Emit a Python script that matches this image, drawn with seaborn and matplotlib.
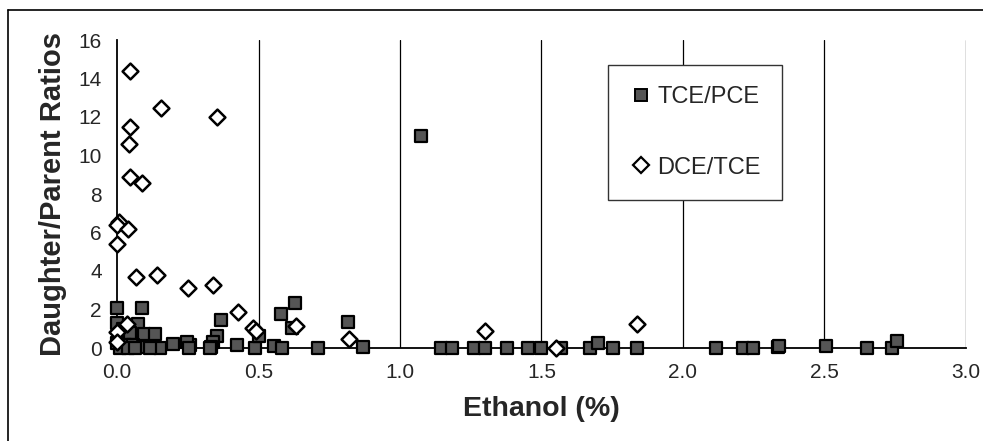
import matplotlib
matplotlib.use("Agg")
import matplotlib.pyplot as plt
from matplotlib.lines import Line2D
import seaborn as sns
import pandas as pd

# TCE/PCE ratios (ethanol %, ratio)
tce_pce_x = [0.0, 0.087, 1.074, 0.629, 0.578, 0.617, 0.816, 0.366, 0.352, 0.338,
             0.331, 0.258, 0.246, 0.423, 0.488, 0.50, 0.555, 0.583, 0.711, 0.868,
             1.145, 1.185, 1.261, 1.30, 1.379, 1.451, 1.498, 1.569, 1.671, 1.698,
             1.754, 1.836, 2.117, 2.213, 2.246, 2.334, 2.34, 2.507, 2.649, 2.737,
             2.757, 0.0, 0.075, 0.02, 0.046, 0.097, 0.134, 0.0, 0.028, 0.058,
             0.093, 0.152, 0.199, 0.255, 0.01, 0.04, 0.117, 0.065, 0.33]
tce_pce_y = [2.06, 2.06, 11.0, 2.32, 1.75, 1.02, 1.37, 1.45, 0.62, 0.33,
             0.07, 0.16, 0.30, 0.16, 0.02, 0.60, 0.10, 0.0, 0.0, 0.07,
             0.0, 0.0, 0.0, 0.0, 0.0, 0.0, 0.0, 0.0, 0.0, 0.24,
             0.0, 0.0, 0.0, 0.0, 0.0, 0.04, 0.10, 0.10, 0.0, 0.0,
             0.38, 1.28, 1.23, 1.0, 0.78, 0.73, 0.73, 0.26, 0.16, 0.16,
             0.07, 0.0, 0.19, 0.0, 0.0, 0.0, 0.0, 0.0, 0.0]

# DCE/TCE ratios
dce_tce_x = [0.046, 0.155, 0.353, 0.046, 0.042, 0.046, 0.087, 0.008, 0.0, 0.038,
             0.0, 0.067, 0.14, 0.25, 0.34, 0.426, 0.48, 0.49, 0.632, 0.82,
             1.30, 1.55, 1.839, 0.034, 0.0, 0.0]
dce_tce_y = [14.4, 12.47, 12.0, 11.5, 10.6, 8.9, 8.55, 6.56, 6.4, 6.2,
             5.4, 3.67, 3.8, 3.12, 3.27, 1.85, 1.05, 0.9, 1.16, 0.48,
             0.88, 0.02, 1.23, 1.23, 0.85, 0.33]

x_ticks = [0.0, 0.5, 1.0, 1.5, 2.0, 2.5, 3.0]
y_ticks = [0, 2, 4, 6, 8, 10, 12, 14, 16]

sns.set_style("white")
plt.rcParams['font.family'] = ['Liberation Sans', 'DejaVu Sans']

fig = plt.figure(figsize=(9.83, 4.41), dpi=100)
ax = fig.add_axes([117/983, 1-348/441, (966-117)/983, (348-40)/441])

for xv in x_ticks[1:]:
    ax.axvline(xv, color='black', lw=0.9, zorder=0)

df1 = pd.DataFrame({'x': tce_pce_x, 'y': tce_pce_y})
df2 = pd.DataFrame({'x': dce_tce_x, 'y': dce_tce_y})
sns.scatterplot(data=df1, x='x', y='y', ax=ax, marker='s', s=65, color='#555555',
                edgecolor='black', linewidth=1.6, clip_on=False, zorder=3)
sns.scatterplot(data=df2, x='x', y='y', ax=ax, marker='D', s=65, color='white',
                edgecolor='black', linewidth=1.8, clip_on=False, zorder=4)

ax.set_xlim(0, 3.0)
ax.set_ylim(0, 16)
ax.set_xticks(x_ticks)
ax.set_xticklabels([f"{v:.1f}" for v in x_ticks])
ax.set_yticks(y_ticks)
for s in ['top', 'right']:
    ax.spines[s].set_visible(False)
for s in ['left', 'bottom']:
    ax.spines[s].set_color('black')
    ax.spines[s].set_linewidth(1.3)
ax.tick_params(axis='both', direction='out', length=5, width=1, color='black',
               labelsize=15, pad=6)
ax.set_xlabel('Ethanol (%)', fontsize=20.5, fontweight='bold', labelpad=10)
ax.set_ylabel('Daughter/Parent Ratios', fontsize=21, fontweight='bold', labelpad=8)

handles = [Line2D([], [], marker='s', ls='', color='#555555', markeredgecolor='black',
                  markersize=8, markeredgewidth=1.4),
           Line2D([], [], marker='D', ls='', color='white', markeredgecolor='black',
                  markersize=8, markeredgewidth=1.6)]
leg = ax.legend(handles, ['TCE/PCE', 'DCE/TCE'], loc='upper left',
                bbox_to_anchor=(0.578, 0.919), fontsize=17, frameon=True,
                fancybox=False, edgecolor='#333333', framealpha=1,
                labelspacing=2.05, borderpad=0.9, handletextpad=0.2,
                handlelength=1.0, borderaxespad=0)
leg.get_frame().set_linewidth(1.0)

# outer chart frame
fig.add_artist(Line2D([8/983, 8/983], [0, 1-10/441], color='black', lw=1.2,
                      transform=fig.transFigure))
fig.add_artist(Line2D([8/983, 1], [1-10/441, 1-10/441], color='black', lw=1.2,
                      transform=fig.transFigure))

fig.savefig('out.png', dpi=100)
